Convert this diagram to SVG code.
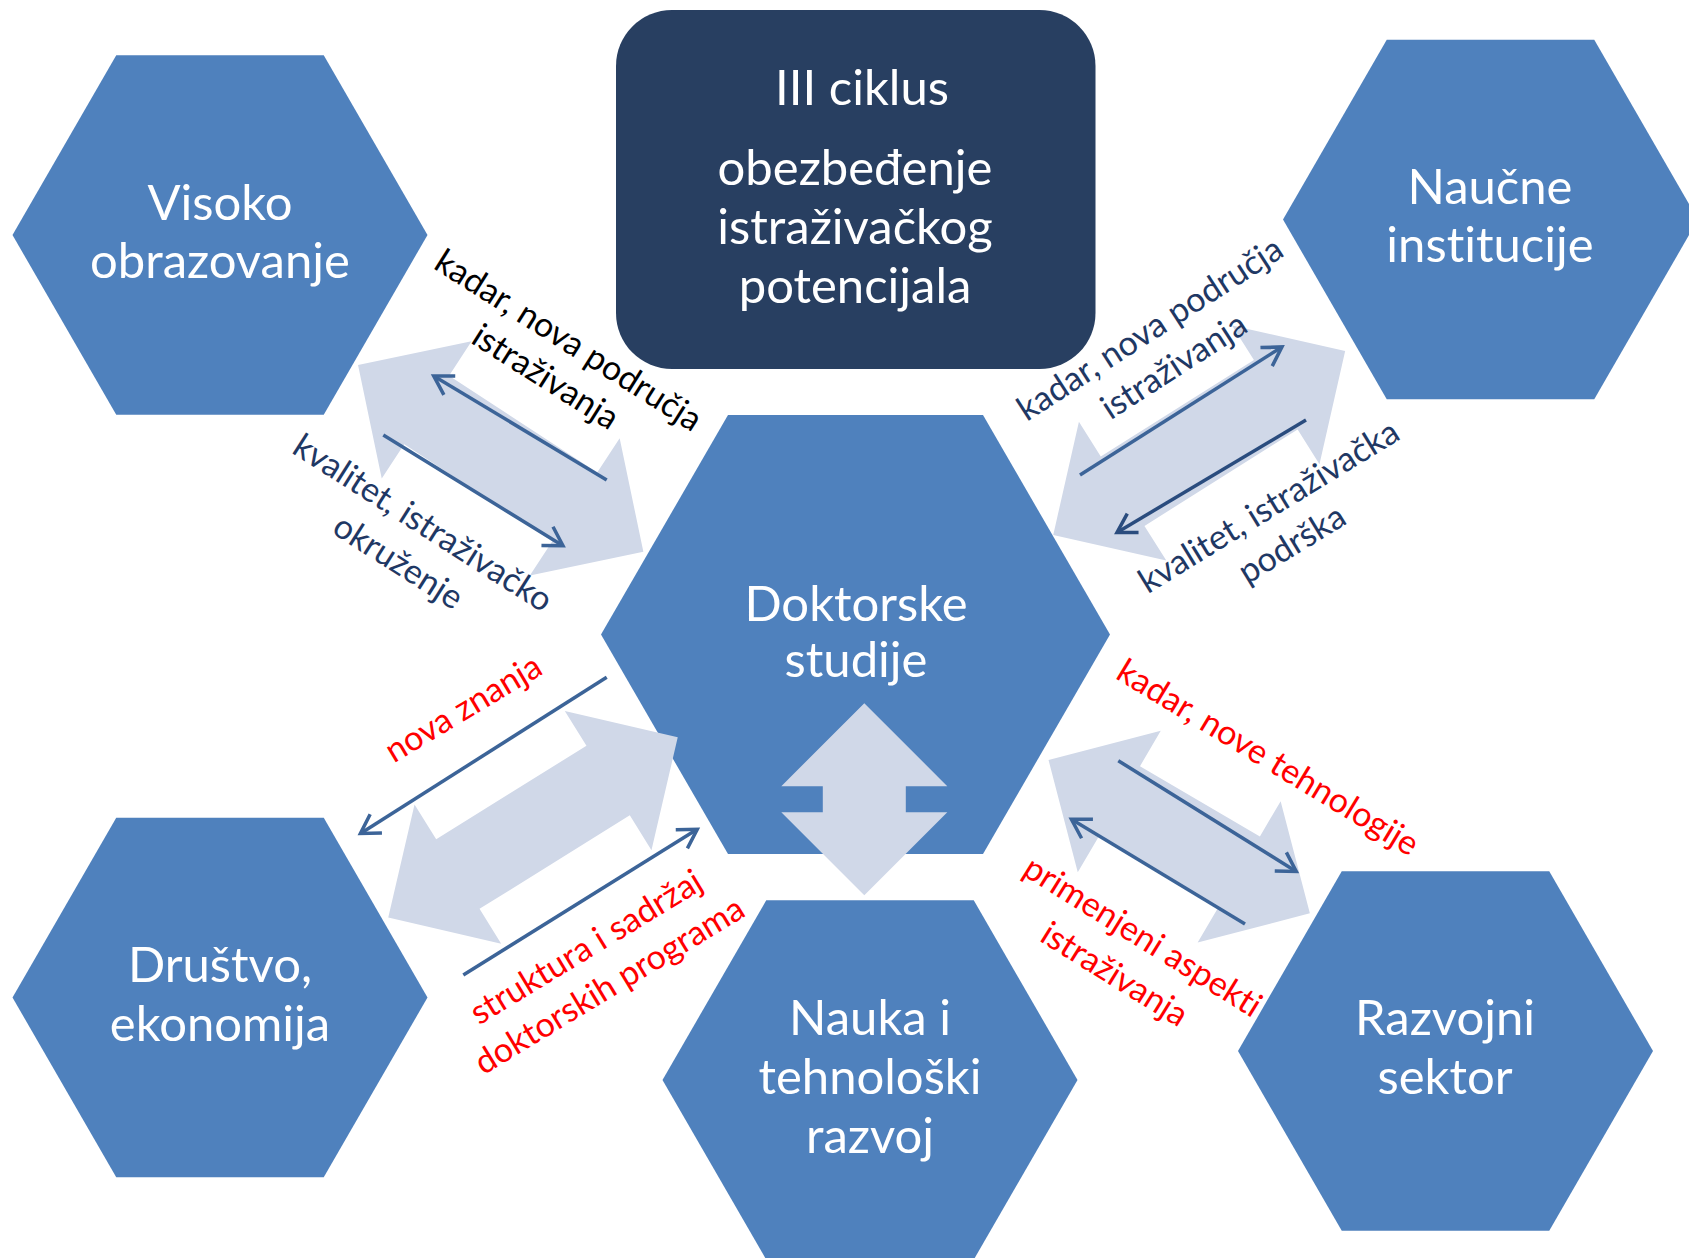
<svg xmlns="http://www.w3.org/2000/svg" width="1689" height="1258" viewBox="0 0 1689 1258">
<defs>
<style>
.hex{fill:#4F81BD;}
.box{fill:#283F61;}
.blk{fill:#D0D8E8;}
.nt{font-family:Lato,"Open Sans","Liberation Sans",sans-serif;font-size:49px;fill:#FFFFFF;text-anchor:middle;font-variant-ligatures:none;}
.lb{font-family:Lato,"Open Sans","Liberation Sans",sans-serif;font-size:34px;text-anchor:middle;font-variant-ligatures:none;}
.k{fill:#000000;}
.n{fill:#1F3864;}
.r{fill:#FF0000;}
.ln{fill:none;stroke:#3C6498;stroke-width:3.5;marker-end:url(#hA);}
.ln2{fill:none;stroke:#2A4C7E;stroke-width:3.5;marker-end:url(#hB);}
</style>
<marker id="hA" markerUnits="userSpaceOnUse" viewBox="-25 -15 30 30" refX="-1.5" refY="0" markerWidth="30" markerHeight="30" orient="auto" overflow="visible">
<path d="M-18.5,-11 L0,0 L-18.5,11" fill="none" stroke="#3C6498" stroke-width="3.5"/>
</marker>
<marker id="hB" markerUnits="userSpaceOnUse" viewBox="-25 -15 30 30" refX="-1.5" refY="0" markerWidth="30" markerHeight="30" orient="auto" overflow="visible">
<path d="M-18.5,-11 L0,0 L-18.5,11" fill="none" stroke="#2A4C7E" stroke-width="3.5"/>
</marker>
</defs>
<rect width="1689" height="1258" fill="#FFFFFF"/>

<g id="node-visoko">
<polygon class="hex" points="12.5,235 116.25,55.3 323.75,55.3 427.5,235 323.75,414.7 116.25,414.7"/>
<text class="nt" x="220" y="220">Visoko</text>
<text class="nt" x="220" y="278">obrazovanje</text>
</g>

<g id="node-naucne">
<polygon class="hex" points="1283,219.5 1386.75,39.8 1594.25,39.8 1698,219.5 1594.25,399.2 1386.75,399.2"/>
<text class="nt" x="1490" y="204">Naučne</text>
<text class="nt" x="1490" y="262">institucije</text>
</g>

<g id="node-ciklus">
<rect class="box" x="616" y="10" width="479.5" height="359" rx="56" ry="56"/>
<text class="nt" x="862" y="105">III ciklus</text>
<text class="nt" x="855" y="185">obezbeđenje</text>
<text class="nt" x="855" y="244">istraživačkog</text>
<text class="nt" x="855" y="303">potencijala</text>
</g>

<g id="node-doktorske">
<polygon class="hex" points="601,634.5 728,415 983,415 1110,634.5 983,854 728,854"/>
<text class="nt" x="856" y="621">Doktorske</text>
<text class="nt" x="856" y="677">studije</text>
</g>

<g id="node-drustvo">
<polygon class="hex" points="12.5,997.5 116.25,817.8 323.75,817.8 427.5,997.5 323.75,1177.2 116.25,1177.2"/>
<text class="nt" x="220" y="982">Društvo,</text>
<text class="nt" x="220" y="1041">ekonomija</text>
</g>

<g id="node-nauka">
<polygon class="hex" points="662.5,1080 766.25,900.3 973.75,900.3 1077.5,1080 973.75,1259.7 766.25,1259.7"/>
<text class="nt" x="870" y="1035">Nauka i</text>
<text class="nt" x="870" y="1094">tehnološki</text>
<text class="nt" x="870" y="1153">razvoj</text>
</g>

<g id="node-razvojni">
<polygon class="hex" points="1238,1051 1341.75,871.3 1549.25,871.3 1653,1051 1549.25,1230.7 1341.75,1230.7"/>
<text class="nt" x="1445" y="1035">Razvojni</text>
<text class="nt" x="1445" y="1094">sektor</text>
</g>

<g id="connectors">
<path class="blk" transform="translate(500.7,458.4) rotate(33.2)" d="M-170.5,0 L-88.5,-82 L-88.5,-41 L88.5,-41 L88.5,-82 L170.5,0 L88.5,82 L88.5,41 L-88.5,41 L-88.5,82 Z"/>
<path class="blk" transform="translate(1199.2,443) rotate(-32.2)" d="M-172.5,0 L-90.5,-82 L-90.5,-41 L90.5,-41 L90.5,-82 L172.5,0 L90.5,82 L90.5,41 L-90.5,41 L-90.5,82 Z"/>
<path class="blk" transform="translate(533,827.3) rotate(-31.9)" d="M-170.5,0 L-88.5,-82 L-88.5,-41 L88.5,-41 L88.5,-82 L170.5,0 L88.5,82 L88.5,41 L-88.5,41 L-88.5,82 Z"/>
<path class="blk" transform="translate(1179.2,836.7) rotate(30.4)" d="M-151.5,0 L-69.5,-82 L-69.5,-41 L69.5,-41 L69.5,-82 L151.5,0 L69.5,82 L69.5,41 L-69.5,41 L-69.5,82 Z"/>
<path class="blk" transform="translate(864.3,799.2) rotate(90)" d="M-96,0 L-13,-83 L-13,-41.5 L13,-41.5 L13,-83 L96,0 L13,83 L13,41.5 L-13,41.5 L-13,83 Z"/>

<line class="ln" x1="606.7" y1="480" x2="435" y2="376.7"/>
<line class="ln" x1="383.3" y1="435" x2="561.7" y2="545"/>
<line class="ln" x1="1080" y1="475" x2="1280.7" y2="347.7"/>
<line class="ln2" x1="1306" y1="420" x2="1118.3" y2="531.7"/>
<line class="ln" x1="606.7" y1="677.3" x2="361.7" y2="832.7"/>
<line class="ln" x1="463.3" y1="975" x2="696" y2="830"/>
<line class="ln" x1="1118.3" y1="760.7" x2="1295" y2="870.7"/>
<line class="ln" x1="1245" y1="924" x2="1072.7" y2="820"/>
</g>

<g id="labels">
<text class="lb k" transform="translate(562.4,350.1) rotate(32.3)"><tspan x="0" y="0">kadar, nova područja</tspan><tspan x="0" y="43">istraživanja</tspan></text>
<text class="lb n" transform="translate(416.7,532.7) rotate(32.5)"><tspan x="0" y="0">kvalitet, istraživačko</tspan><tspan x="0" y="46">okruženje</tspan></text>
<text class="lb n" transform="translate(1156.2,338.6) rotate(-32.8)"><tspan x="0" y="0">kadar, nova područja</tspan><tspan x="0" y="44">istraživanja</tspan></text>
<text class="lb n" transform="translate(1274.8,516.3) rotate(-31.5)"><tspan x="0" y="0">kvalitet, istraživačka</tspan><tspan x="0" y="44">podrška</tspan></text>
<text class="lb r" transform="translate(469.1,718.2) rotate(-31)"><tspan x="0" y="0">nova znanja</tspan></text>
<text class="lb r" transform="translate(592,956.8) rotate(-31.3)"><tspan x="0" y="0">struktura i sadržaj</tspan><tspan x="0" y="45">doktorskih programa</tspan></text>
<text class="lb r" transform="translate(1262,767.2) rotate(31.2)"><tspan x="0" y="0">kadar, nove tehnologije</tspan></text>
<text class="lb r" transform="translate(1136.7,946.2) rotate(31.9)"><tspan x="0" y="0">primenjeni aspekti</tspan><tspan x="-4" y="47">istraživanja</tspan></text>
</g>
</svg>
